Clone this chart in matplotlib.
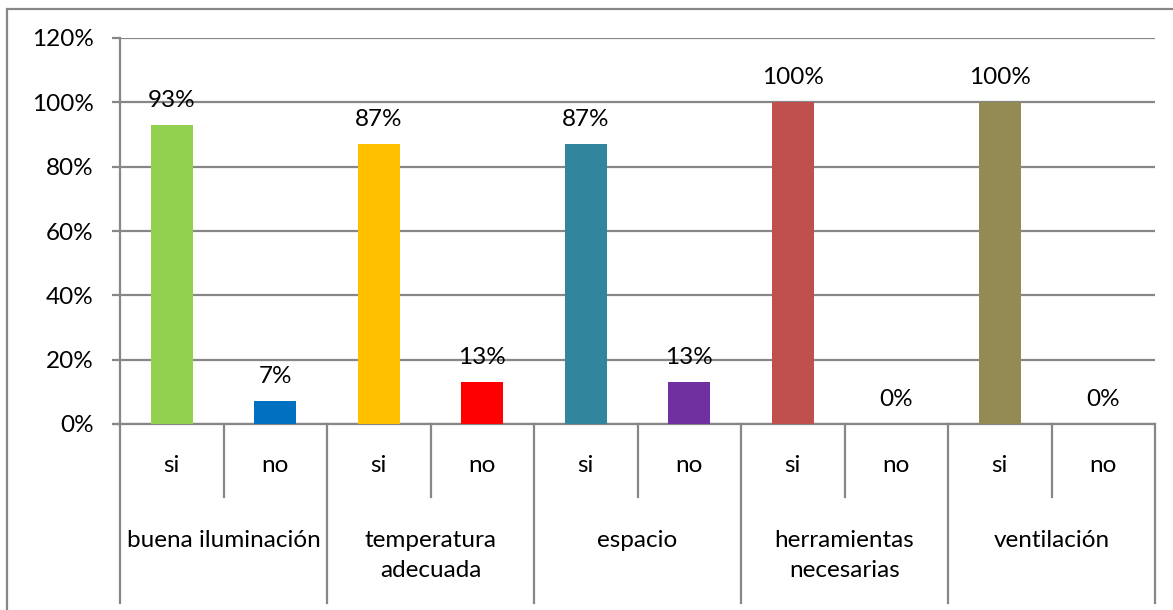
import numpy as np
import matplotlib.pyplot as plt
from matplotlib.patches import Rectangle

groups = ['buena iluminación', 'temperatura\nadecuada', 'espacio',
          'herramientas\nnecesarias', 'ventilación']
answers = ['si', 'no']
values = [93, 7, 87, 13, 87, 13, 100, 0, 100, 0]
colors = ['#92D050', '#0070C0', '#FFC000', '#FF0000', '#31859C',
          '#7030A0', '#C0504D', '#C0504D', '#948A54', '#948A54']
yticks = [0, 20, 40, 60, 80, 100, 120]

plt.rcParams['font.family'] = ['Lato', 'DejaVu Sans']
fs = 17.5

W, H = 1173, 610
fig = plt.figure(figsize=(W / 100, H / 100), dpi=100)
grid_col = '#878787'

# outer chart border
fig.patches.append(Rectangle((7 / W, -0.1), 1.2, 1 - 9 / H + 0.1, transform=fig.transFigure,
                             fill=False, edgecolor=grid_col, linewidth=1.6))

x0, x1, yb, yt = 120, 1155, 424, 38
ax = fig.add_axes([x0 / W, 1 - yb / H, (x1 - x0) / W, (yb - yt) / H])

n = len(values)
x = np.arange(n)
ax.bar(x, values, width=0.41, color=colors, zorder=3)
for xi, v in zip(x, values):
    ax.annotate(f'{v}%', (xi, v), xytext=(0, 13), textcoords='offset points',
                ha='center', va='baseline', fontsize=fs, zorder=4)

ax.set_xlim(-0.5, n - 0.5)
ax.set_ylim(0, 120)
ax.set_yticks(yticks)
ax.set_yticklabels([f'{t}%' for t in yticks], fontsize=fs)
ax.yaxis.grid(True, color=grid_col, linewidth=1.6, zorder=0)
ax.tick_params(axis='y', length=6, width=1.6, color=grid_col, pad=13, direction='out')
ax.set_xticks([])
for s in ['top', 'right', 'bottom']:
    ax.spines[s].set_visible(False)
ax.spines['left'].set_color(grid_col)
ax.spines['left'].set_linewidth(1.6)
ax.axhline(0, color=grid_col, linewidth=1.6, zorder=2, xmin=-6 / (x1 - x0), clip_on=False)

# category separators below the axis (pixel offsets converted to axes fraction)
ph = yb - yt
short_end = -(497 - yb) / ph
long_end = -(603 - yb) / ph
for b in np.arange(-0.5, n, 1.0):
    end = long_end if int(b + 0.5) % 2 == 0 else short_end
    ax.plot([b, b], [0, end], color=grid_col, linewidth=1.6,
            transform=ax.get_xaxis_transform(), clip_on=False)

for i, xi in enumerate(x):
    ax.text(xi, -(466 - yb) / ph, answers[i % 2], ha='center', va='center',
            transform=ax.get_xaxis_transform(), fontsize=fs)
for g, name in enumerate(groups):
    ax.text(2 * g + 0.5, -(530 - yb) / ph, name, ha='center', va='top',
            transform=ax.get_xaxis_transform(), fontsize=fs, linespacing=1.55)

fig.savefig('out.png', dpi=100)
